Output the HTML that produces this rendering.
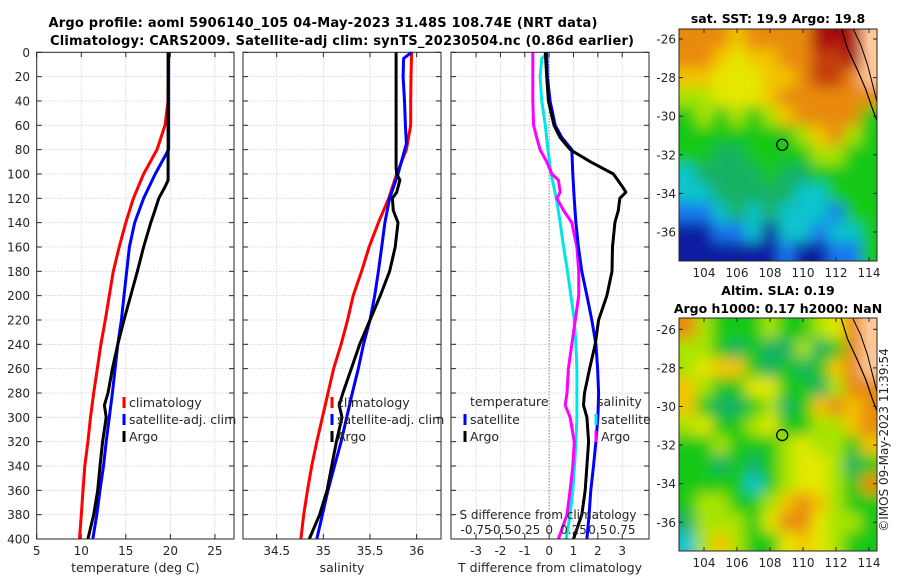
<!DOCTYPE html>
<html><head><meta charset="utf-8">
<style>
html,body{margin:0;padding:0;background:#fff;}
svg{display:block;font-family:"DejaVu Sans","Liberation Sans",sans-serif;}
</style></head>
<body>
<svg id="fig" width="900" height="580" viewBox="0 0 900 580" xmlns="http://www.w3.org/2000/svg">
<defs>
<filter id="blur1" x="-5%" y="-5%" width="110%" height="110%"><feGaussianBlur stdDeviation="7" edgeMode="duplicate"/></filter>
<clipPath id="clipMap1"><rect x="679" y="29" width="198" height="232"/></clipPath>
<clipPath id="clipMap2"><rect x="679" y="318" width="198" height="233"/></clipPath>
</defs>
<text x="323" y="27" text-anchor="middle" font-size="13" font-weight="bold" fill="#000" textLength="549">Argo profile: aoml 5906140_105 04-May-2023 31.48S 108.74E (NRT data)</text>
<text x="342" y="45" text-anchor="middle" font-size="13" font-weight="bold" fill="#000" textLength="584">Climatology: CARS2009. Satellite-adj clim: synTS_20230504.nc (0.86d earlier)</text>
<g id="plots"></g>
<text x="888" y="440" transform="rotate(-90 888 440)" text-anchor="middle" font-size="12" fill="#262626">©IMOS 09-May-2023 11:39:54</text>
</svg>
<script>
// ---------- data ----------
const depthTicks = [0,20,40,60,80,100,120,140,160,180,200,220,240,260,280,300,320,340,360,380,400];
const tempTicks = [5,10,15,20,25];
const salTicks = [34.5,35,35.5,36];
const tdiffTicks = [-3,-2,-1,0,1,2,3];
const sdiffTickLabels = ["-0.75","-0.5","-0.25","0","0.25","0.5","0.75"];
const sdiffTickValues = [-0.75,-0.5,-0.25,0,0.25,0.5,0.75];

const climTDepth = [0,40,60,80,100,120,140,160,180,200,220,240,260,280,300,320,340,360,380,400];
const climT = [19.8,19.75,19.4,18.5,17.0,15.85,15.0,14.26,13.6,13.15,12.7,12.2,11.8,11.4,11.04,10.74,10.4,10.2,10.0,9.8];
const satTDepth = [0,80,100,120,140,160,180,200,220,240,260,280,300,320,340,360,380,400];
const satT = [19.8,19.8,18.3,17.0,16.0,15.4,15.1,14.8,14.5,14.1,13.8,13.5,13.15,12.8,12.5,12.1,11.74,11.3];
const argoTDepth = [0,100,105,110,120,130,140,160,180,200,220,240,260,280,290,300,320,340,360,380,400];
const argoT = [19.75,19.75,19.75,19.44,18.7,18.26,17.8,17.0,16.3,15.55,14.8,14.1,13.5,13.0,12.6,12.8,12.4,12.1,11.85,11.4,10.74];

const climSDepth = [0,20,40,60,80,100,120,140,160,180,200,220,240,260,280,300,320,340,360,380,400];
const climS = [35.946,35.94,35.936,35.936,35.89,35.786,35.7,35.59,35.49,35.41,35.32,35.26,35.19,35.11,35.05,34.99,34.93,34.875,34.83,34.79,34.76];
const satSDepth = [0,5,20,40,60,75,100,120,140,160,180,200,220,240,260,280,300,320,340,360,380,400];
const satS = [35.946,35.86,35.855,35.87,35.88,35.89,35.8,35.71,35.66,35.625,35.59,35.55,35.5,35.43,35.375,35.31,35.25,35.19,35.12,35.05,34.99,34.93];
const argoSDepth = [0,95,100,105,115,120,130,140,160,180,200,220,240,260,280,290,300,320,340,360,380,400];
const argoS = [35.78,35.78,35.786,35.82,35.786,35.74,35.75,35.8,35.77,35.71,35.61,35.5,35.39,35.3,35.21,35.17,35.2,35.14,35.09,35.04,34.96,34.85];

const dTDepth = [0,20,40,60,70,80,100,120,140,160,180,200,220,240,260,280,300,320,340,360,380,400];
const satTDiff = [-0.1,-0.07,0.04,0.25,0.52,0.93,0.97,1.03,1.1,1.2,1.34,1.55,1.75,1.92,1.99,2.03,2.0,1.92,1.82,1.71,1.64,1.55];
const argoTDiffDepth = [0,20,40,60,70,80,90,100,110,115,120,130,140,160,180,200,220,240,260,280,290,300,320,340,360,380,400];
const argoTDiff = [-0.16,-0.1,-0.03,0.2,0.45,0.86,1.7,2.64,2.99,3.15,2.9,2.84,2.7,2.6,2.58,2.37,2.03,1.89,1.66,1.45,1.41,1.55,1.62,1.55,1.48,1.34,1.0];
const satSDiffDepth = [0,5,20,40,60,80,100,120,140,160,180,200,220,240,260,280,300,320,340,360,380,400];
const satSDiff = [-0.008,-0.075,-0.093,-0.075,-0.04,-0.013,0.02,0.073,0.113,0.148,0.188,0.223,0.258,0.275,0.285,0.285,0.285,0.275,0.26,0.243,0.215,0.175];
const argoSDiffDepth = [0,20,40,60,70,80,90,100,105,115,120,130,140,160,180,200,220,240,260,280,290,300,320,340,360,380,400];
const argoSDiff = [-0.168,-0.168,-0.168,-0.16,-0.128,-0.093,-0.025,0.028,0.095,0.113,0.08,0.148,0.233,0.285,0.303,0.303,0.268,0.233,0.198,0.183,0.165,0.215,0.258,0.243,0.215,0.183,0.095];

// map colour grids (rows lat -26..-37, cols lon 103..114)
const sstGrid = [
"oooyooooaaap",
"ooyYyyoorrap",
"yyYYYyyorrop",
"llYYYyoooooo",
"glglglyoooog",
"ggggggglyolg",
"ggGGggggllgg",
"cGGGGgGGgggg",
"ccGGGGGccggg",
"bbcGcGcccbgg",
"ddbbcdccbccg",
"ddddddbddbbg"];
const slaGrid = [
"olggglgglYop",
"llgGgGGlGgop",
"lYyygGgGgyop",
"ylggYYggGloo",
"ygGGglGgyoyo",
"lYgglYggllyo",
"gglggglYllgy",
"ggGgGglYYlGg",
"ggggcglYYlgo",
"gllgglyoylgg",
"GlllgYooYllg",
"clylggYyYlgg"];
const mapLons = [104,106,108,110,112,114];
const mapLats = [-26,-28,-30,-32,-34,-36];
const argoLon = 108.74, argoLat = -31.48;

// ---------- helpers ----------
const NS = "http://www.w3.org/2000/svg";
const root = document.getElementById('plots');
function el(tag, attrs, parent){const e=document.createElementNS(NS,tag);for(const k in attrs)e.setAttribute(k,attrs[k]);(parent||root).appendChild(e);return e;}
const Y0=52.3, Y1=539;
function yD(d){return Y0+(d/400)*(Y1-Y0);}
function lin(d0,d1,r0,r1){return v=>r0+(v-d0)/(d1-d0)*(r1-r0);}

const panels=[
 {x0:36.7,x1:234,dom:[5,27.14],ticks:tempTicks,name:'temperature-panel',label:'temperature (deg C)'},
 {x0:243,x1:441,dom:[34.139,36.261],ticks:salTicks,name:'salinity-panel',label:'salinity'},
 {x0:451,x1:649,dom:[-4.03,4.1],ticks:tdiffTicks,name:'difference-panel',label:'T difference from climatology'}
];
panels.forEach((p,i)=>{
  p.xs=lin(p.dom[0],p.dom[1],p.x0,p.x1);
  const g=el('g',{});
  
  
  p.g=g;
  el('rect',{x:p.x0,y:Y0,width:p.x1-p.x0,height:Y1-Y0,fill:'#fff'},g);
  depthTicks.forEach(d=>{
    if(d>0&&d<400){const l=el('line',{x1:p.x0,x2:p.x1,y1:yD(d),y2:yD(d),stroke:'#c8cce0','stroke-width':0.8,'stroke-dasharray':'1.5,1.5'},g);
    
    }
    el('line',{x1:p.x0,x2:p.x0+5,y1:yD(d),y2:yD(d),stroke:'#262626','stroke-width':1},g);
    el('line',{x1:p.x1-5,x2:p.x1,y1:yD(d),y2:yD(d),stroke:'#262626','stroke-width':1},g);
    if(i===0){const t=el('text',{x:30,y:yD(d)+4.5,'text-anchor':'end','font-size':12,fill:'#262626'},g);t.textContent=d;
      
      }
  });
  p.ticks.forEach(v=>{
    const x=p.xs(v);
    if(x>p.x0+1&&x<p.x1-1){const l=el('line',{x1:x,x2:x,y1:Y0,y2:Y1,stroke:'#c8cce0','stroke-width':0.8,'stroke-dasharray':'1.5,1.5'},g);
      
      }
    el('line',{x1:x,x2:x,y1:Y1-5,y2:Y1,stroke:'#262626'},g);
    el('line',{x1:x,x2:x,y1:Y0,y2:Y0+5,stroke:'#262626'},g);
    const t=el('text',{x:x,y:555,'text-anchor':'middle','font-size':12,fill:'#262626'},g);t.textContent=v;
    
    
  });
  const at=el('text',{x:(p.x0+p.x1)/2,y:572,'text-anchor':'middle','font-size':12.5,fill:'#262626'},g);at.textContent=p.label;
  
  
});
function line(p,vals,depths,color,name,xf){
  const f=xf||p.xs;
  const pts=vals.map((v,k)=>f(v).toFixed(1)+','+yD(depths[k]).toFixed(1)).join(' ');
  const pl=el('polyline',{points:pts,fill:'none',stroke:color,'stroke-width':3,'stroke-linejoin':'round'},p.g);
  
  
}
const P3=panels[2];
el('line',{x1:P3.xs(0),x2:P3.xs(0),y1:Y0,y2:Y1,stroke:'#556b2f','stroke-width':1,'stroke-dasharray':'1,2'},P3.g);
const sx=v=>P3.xs(v*4);
line(panels[0],climT,climTDepth,'#ff0000','climatology-temperature-line');
line(panels[0],satT,satTDepth,'#0000ff','satellite-temperature-line');
line(panels[0],argoT,argoTDepth,'#000000','argo-temperature-line');
line(panels[1],climS,climSDepth,'#ff0000','climatology-salinity-line');
line(panels[1],satS,satSDepth,'#0000ff','satellite-salinity-line');
line(panels[1],argoS,argoSDepth,'#000000','argo-salinity-line');
line(P3,satSDiff,satSDiffDepth,'#00e5e5','satellite-salinity-diff-line',sx);
line(P3,argoSDiff,argoSDiffDepth,'#ff00ff','argo-salinity-diff-line',sx);
line(P3,satTDiff,dTDepth,'#0000ff','satellite-temperature-diff-line');
line(P3,argoTDiff,argoTDiffDepth,'#000000','argo-temperature-diff-line');
{const t=el('text',{x:548,y:519,'text-anchor':'middle','font-size':12,fill:'#262626'},P3.g);t.textContent='S difference from climatology';
}
sdiffTickValues.forEach((v,k)=>{const t=el('text',{x:sx(v),y:534,'text-anchor':'middle','font-size':12,fill:'#262626'},P3.g);t.textContent=sdiffTickLabels[k];
});
panels.forEach(p=>el('rect',{x:p.x0,y:Y0,width:p.x1-p.x0,height:Y1-Y0,fill:'none',stroke:'#262626','stroke-width':1},p.g));
function legItem(g,x,y,color,label,name){
  el('rect',{x:x-1.5,y:y-9,width:3,height:11,fill:color},g);
  const t=el('text',{x:x+5,y:y+1,'font-size':12.5,fill:'#262626'},g);t.textContent=label;
  
}
[[panels[0],124],[panels[1],332]].forEach(([p,x])=>{
  legItem(p.g,x,406,'#ff0000','climatology','legend-climatology');
  legItem(p.g,x,423,'#0000ff','satellite-adj. clim','legend-satellite-adj');
  legItem(p.g,x,440,'#000000','Argo','legend-argo');
});
{const t=el('text',{x:470,y:406,'font-size':12.5,fill:'#262626'},P3.g);t.textContent='temperature';}
{const t=el('text',{x:597,y:406,'font-size':12.5,fill:'#262626'},P3.g);t.textContent='salinity';}
legItem(P3.g,465,423,'#0000ff','satellite','legend-temp-satellite');
legItem(P3.g,465,440,'#000000','Argo','legend-temp-argo');
legItem(P3.g,596,423,'#00e5e5','satellite','legend-sal-satellite');
legItem(P3.g,596,440,'#ff00ff','Argo','legend-sal-argo');

// ---------- maps ----------
const pal={a:'#a81008',r:'#c43c0c',o:'#e88a08',y:'#f4c400',Y:'#e4e800',l:'#a8e400',g:'#14c814',G:'#14b064',c:'#10c4cc',b:'#1478f0',d:'#081ca0',p:'#fcc898'};
function drawMap(top,bottom,grid,clip,title1,title2,name){
  const g=el('g',{});
  
  
  const X0=679,X1=877;
  const lonS=lin(104,114,704,869);
  const latS=lin(-26,-36,top+((bottom-top)===232?10:11.3),top+((bottom-top)===232?203:204.3));
  const cg=el('g',{'clip-path':'url(#'+clip+')'},g);
  const fg=el('g',{filter:'url(#blur1)'},cg);
  grid.forEach((row,r)=>{[...row].forEach((ch,c)=>{
    const lon0=102.5+c, lat0=-25.5-r;
    const xa=lonS(lon0)-(c===0?20:0), xb=lonS(lon0+1)+(c===row.length-1?20:0);
    const ya=latS(lat0)-(r===0?20:0), yb=latS(lat0-1)+(r===grid.length-1?20:0);
    el('rect',{x:xa,y:ya,width:xb-xa+0.5,height:yb-ya+0.5,fill:pal[ch]},fg);
  });});
  const lx=v=>lonS(v), ly=v=>latS(v);
  el('polygon',{points:[[113.9,-25],[115,-25],[115,-30.5],[114.7,-30.5],[114.6,-29],[114.3,-27.5],[113.9,-26.5]].map(q=>lx(q[0])+','+ly(q[1])).join(' '),fill:'#fcc898'},cg);
  const c1=el('polyline',{points:[[112.3,-25.4],[112.7,-26.5],[113.3,-27.6],[113.8,-28.6],[114.2,-29.6],[114.6,-30.5]].map(q=>lx(q[0])+','+ly(q[1])).join(' '),fill:'none',stroke:'#000','stroke-width':1.2},cg);
  
  el('polyline',{points:[[113.0,-25.4],[113.5,-26.3],[113.9,-27.3],[114.2,-28.3],[114.5,-29.3]].map(q=>lx(q[0])+','+ly(q[1])).join(' '),fill:'none',stroke:'#000','stroke-width':1},cg);
  el('path',{d:'M'+lx(114.6)+','+ly(-33.6)+' q-4,6 0,14',fill:'none',stroke:'#000','stroke-width':1},cg);
  const ci=el('circle',{cx:lonS(argoLon),cy:latS(argoLat),r:5.5,fill:'none',stroke:'#000','stroke-width':1.3},g);
  
  el('rect',{x:X0,y:top,width:X1-X0,height:bottom-top,fill:'none',stroke:'#262626'},g);
  mapLons.forEach(v=>{const x=lonS(v);el('line',{x1:x,x2:x,y1:bottom-4,y2:bottom,stroke:'#262626'},g);el('line',{x1:x,x2:x,y1:top,y2:top+4,stroke:'#262626'},g);
    const t=el('text',{x:x,y:bottom+16,'text-anchor':'middle','font-size':12,fill:'#262626'},g);t.textContent=v;
    });
  mapLats.forEach(v=>{const y=latS(v);el('line',{x1:X0,x2:X0+4,y1:y,y2:y,stroke:'#262626'},g);el('line',{x1:X1-4,x2:X1,y1:y,y2:y,stroke:'#262626'},g);
    const t=el('text',{x:676,y:y+4.5,'text-anchor':'end','font-size':12,fill:'#262626'},g);t.textContent=v;
    });
  if(title2){
    const t1=el('text',{x:778,y:top-23,'text-anchor':'middle','font-size':12.5,'font-weight':'bold',fill:'#000'},g);t1.textContent=title1;
    
    const t2=el('text',{x:778,y:top-5,'text-anchor':'middle','font-size':12.5,'font-weight':'bold',fill:'#000'},g);t2.textContent=title2;
    
  } else {
    const t1=el('text',{x:778,y:top-6,'text-anchor':'middle','font-size':12.5,'font-weight':'bold',fill:'#000'},g);t1.textContent=title1;
    
  }
}
drawMap(29,261,sstGrid,'clipMap1','sat. SST: 19.9 Argo: 19.8',null,'sst-map');
drawMap(318,551,slaGrid,'clipMap2','Altim. SLA: 0.19','Argo h1000: 0.17 h2000: NaN','sla-map');
</script>
</body></html>
